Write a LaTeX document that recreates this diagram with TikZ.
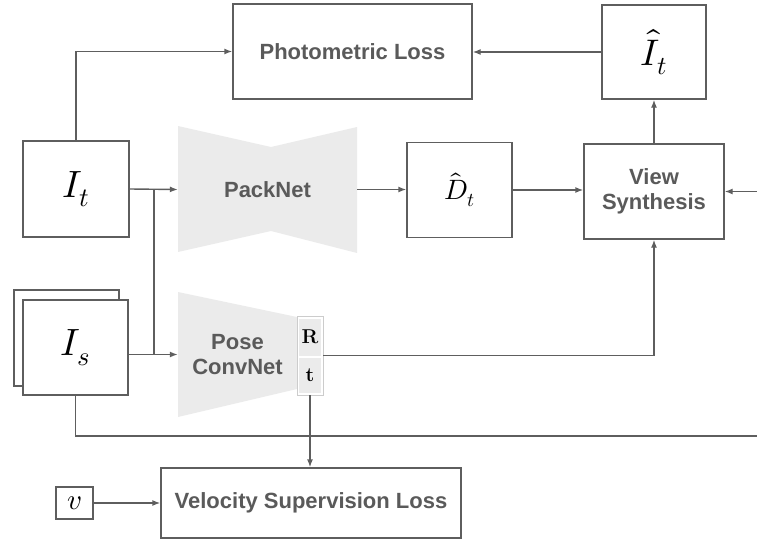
\documentclass[tikz,border=0pt]{standalone}
\usepackage{fontspec}
\usepackage{unicode-math}
\setmathfont{Latin Modern Math}
\setsansfont{Liberation Sans}
\usetikzlibrary{arrows.meta,calc}
\definecolor{lg}{HTML}{5E5E5E}
\definecolor{tg}{HTML}{5A5A5A}
\definecolor{netfill}{HTML}{EBEBEB}
\definecolor{cellborder}{HTML}{CCCCCC}
\newcommand{\lbl}{\sffamily\bfseries\color{tg}\fontsize{22}{25}\selectfont}
\begin{document}
\begin{tikzpicture}[x=1pt,y=-1pt,
  box/.style={draw=lg, line width=1.4pt, fill=white, inner sep=0pt},
  lbltext/.style={font=\lbl, align=center},
  conn/.style={draw=lg, line width=1.4pt},
  arr/.style={conn, -{Latex[length=8pt,width=6pt]}}]
\useasboundingbox (0,0) rectangle (757,543);

% boxes
\node[box, lbltext, minimum width=239, minimum height=95] (photo) at (352.5,51.5) {Photometric Loss};
\node[box, minimum width=104, minimum height=94] (Ihat) at (654,52) {\fontsize{37}{40}\selectfont$\hat{I}_t$};
\node[box, minimum width=106, minimum height=96] (It) at (76,189) {\fontsize{38}{40}\selectfont$I_t$};
\node[box, minimum width=105, minimum height=95] (Dh) at (459.5,190) {\fontsize{28}{32}\selectfont$\hat{D}_t$};
\node[box, lbltext, minimum width=140, minimum height=95] (vs) at (654,191.5) {View\\Synthesis};
\node[box, minimum width=105, minimum height=96] (Isback) at (66.5,338) {};
\node[box, minimum width=105, minimum height=95] (Is) at (75.5,347.5) {\fontsize{38}{40}\selectfont$I_s$};
\node[box, minimum width=37, minimum height=32] (v) at (74.5,503) {\fontsize{29}{30}\selectfont$v$};
\node[box, lbltext, minimum width=300, minimum height=70] (vel) at (311,503) {Velocity Supervision Loss};

% networks
\fill[netfill] (178,126) -- (271,147) -- (357,127) -- (357,253) -- (271,231) -- (178,252) -- cycle;
\node[lbltext, inner sep=0pt, minimum width=179, minimum height=127] (packnet) at (267.5,189.5) {PackNet};
\fill[netfill] (178,292) -- (297,317) -- (297,389) -- (178,417) -- cycle;
\node[lbltext, inner sep=0pt, minimum width=119, minimum height=125] (pose) at (237.5,354.5) {Pose\\ConvNet};
\node[draw=cellborder, line width=0.8pt, fill=white, inner sep=0pt, minimum width=26, minimum height=79] (rt) at (310,355.5) {};
\node[fill=netfill, inner sep=0pt, minimum width=22, minimum height=37] (R) at (310,337) {\fontsize{20}{22}\selectfont$\mathbf{R}$};
\node[fill=netfill, inner sep=0pt, minimum width=22, minimum height=35] (tt) at (310,375.5) {\fontsize{20}{22}\selectfont$\mathbf{t}$};

% connectors
\coordinate (j1) at (154,189);
\coordinate (j2) at (154,354.5);
\coordinate (rin) at (757,191.5);
\coordinate (bot) at (757,436);
\draw[arr] (It.north) |- (photo.west);
\draw[arr] (It.east) -- (packnet.west);
\draw[conn] (j1) -- (j2);
\draw[arr] (Is.east |- pose.west) -- (pose.west);
\draw[arr] (packnet.east) -- (packnet.east -| Dh.west);
\draw[arr] (Dh.east) -- (Dh.east -| vs.west);
\draw[arr] (vs.north) -- (Ihat.south);
\draw[arr] (Ihat.west) -- (Ihat.west -| photo.east);
\draw[arr] (rin) -- (vs.east);
\draw[arr] (rt.east) -| (vs.south);
\draw[arr] (rt.south) -- (rt.south |- vel.north);
\draw[conn] (Is.south) |- (bot);
\draw[arr] (v.east) -- (vel.west);
\end{tikzpicture}
\end{document}
